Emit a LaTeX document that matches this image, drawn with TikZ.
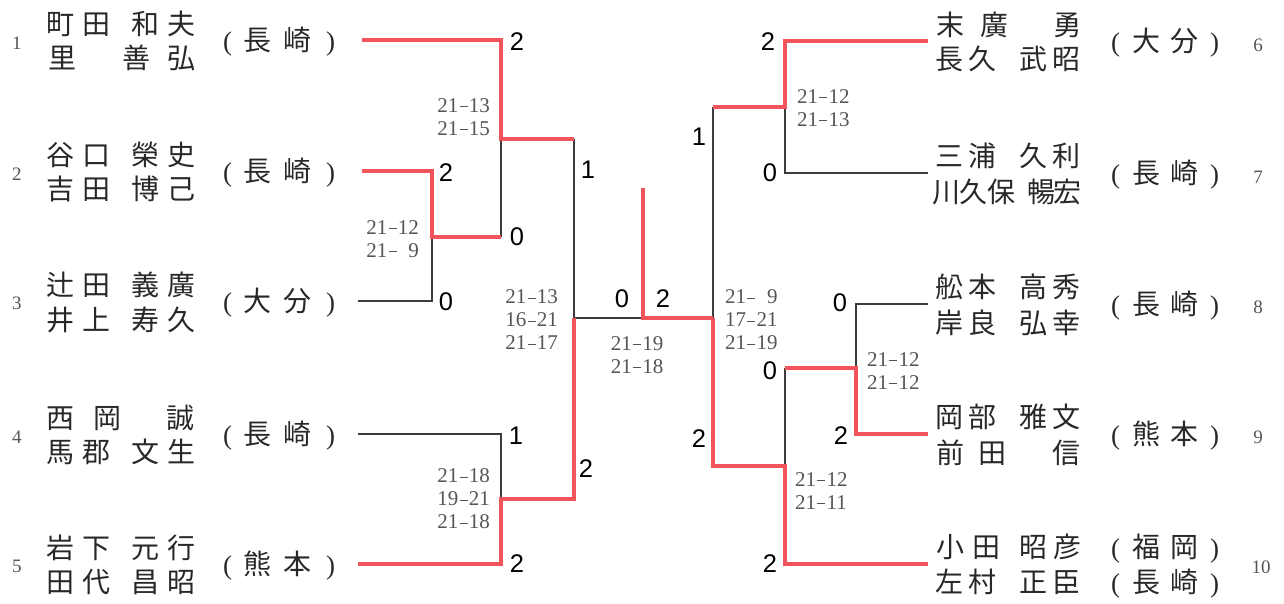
\documentclass[tikz,border=0pt]{standalone}
\usepackage{fontspec}
\setmainfont{Liberation Serif}
\newfontfamily\cjk{Noto Sans CJK JP}
\newfontfamily\pf{Liberation Serif}
\newfontfamily\bsf{Liberation Sans}
\definecolor{wred}{RGB}{242,84,92}
\definecolor{ink}{RGB}{40,40,40}
\definecolor{sgray}{RGB}{85,85,85}
\definecolor{lgray}{RGB}{60,60,60}
\newcommand\ch[2]{\makebox[0pt][l]{\hspace*{#1pt}\makebox[0pt]{#2}}}
\newcommand\sdash{\makebox[.5em]{\rule[0.24em]{0.38em}{0.055em}}}
\newcommand\nsp{\hphantom{0}}
\newcommand\lp{{\pf\fontsize{27}{27}\selectfont(}}
\newcommand\rp{{\pf\fontsize{27}{27}\selectfont)}}
\newcommand\nmL[6]{\node[nm] (#1) at (0,#2) {\ch{60}{#3}\ch{96}{#4}\ch{145}{#5}\ch{181}{#6}};}
\newcommand\nmR[6]{\node[nm] (#1) at (0,#2) {\ch{949}{#3}\ch{982}{#4}\ch{1033}{#5}\ch{1066}{#6}};}
\newcommand\affL[4]{\node[nm] (#1) at (0,#2) {\ch{227}{\lp}\ch{257}{#3}\ch{297}{#4}\ch{330}{\rp}};}
\newcommand\affR[4]{\node[nm] (#1) at (0,#2) {\ch{1115}{\lp}\ch{1146}{#3}\ch{1184}{#4}\ch{1214}{\rp}};}
\begin{document}
\begin{tikzpicture}[x=1pt,y=-1pt,
  win/.style={line width=4.8pt, draw=wred, line join=miter},
  lose/.style={line width=1.2pt, draw=lgray},
  nm/.style={anchor=base west, inner sep=0pt, font=\cjk\fontsize{28}{28}\selectfont, text=ink},
  big/.style={inner sep=0pt, font=\bsf\fontsize{25.5}{25.5}\selectfont, text=black},
  scr/.style={inner sep=0pt, font=\pf\fontsize{21}{23}\selectfont, text=sgray, align=right},
  scl/.style={inner sep=0pt, font=\pf\fontsize{21}{23}\selectfont, text=sgray, align=left},
  seed/.style={inner sep=0pt, font=\pf\fontsize{19}{19}\selectfont, text=sgray}]
\useasboundingbox (0,0) rectangle (1284,603);
% ---- bracket coordinates
\coordinate (p1) at (362,40);
\coordinate (p2) at (362,171);
\coordinate (p3) at (358,301);
\coordinate (p4) at (358,434);
\coordinate (p5) at (358,564);
\coordinate (m23t) at (432,171);
\coordinate (m23b) at (432,301);
\coordinate (m23) at (432,237);
\coordinate (m1t) at (501,40);
\coordinate (m1b) at (501,237);
\coordinate (m1) at (501,139);
\coordinate (m45t) at (501,434);
\coordinate (m45b) at (501,564);
\coordinate (m45) at (501,499);
\coordinate (sLt) at (574,139);
\coordinate (sLb) at (574,499);
\coordinate (sL) at (574,318);
\coordinate (fc) at (643,318);
\coordinate (top) at (643,188);
\coordinate (sRt) at (713,107);
\coordinate (sRb) at (713,466);
\coordinate (sR) at (713,318);
\coordinate (m67t) at (785,41);
\coordinate (m67b) at (785,173);
\coordinate (m67) at (785,107);
\coordinate (m10t) at (785,368);
\coordinate (m10b) at (785,564);
\coordinate (m10) at (785,466);
\coordinate (m89t) at (856,304);
\coordinate (m89b) at (856,434);
\coordinate (m89) at (856,368);
\coordinate (p6) at (928,41);
\coordinate (p7) at (928,173);
\coordinate (p8) at (928,304);
\coordinate (p9) at (928,434);
\coordinate (p10) at (928,564);
% ---- losing lines
\draw[lose] (p3) -- (m23b) -- (m23);
\draw[lose] (m1) -- (m1b);
\draw[lose] (p4) -- (m45t) -- (m45);
\draw[lose] (sLt) -- (sL) -- (fc);
\draw[lose] (sRt) -- (sR);
\draw[lose] (m67) -- (m67b) -- (p7);
\draw[lose] (p8) -- (m89t) -- (m89);
\draw[lose] (m10t) -- (m10);
% ---- winning lines
\draw[win] (p1) -- (m1t) -- (m1) -- (sLt);
\draw[win] (p2) -- (m23t) -- (m23) -- (m1b);
\draw[win] (p5) -- (m45b) -- (m45) -- (sLb) -- (sL);
\draw[win] (sR) -- (fc) -- (top);
\draw[win] (sR) -- (sRb) -- (m10) -- (m10b) -- (p10);
\draw[win] (p9) -- (m89b) -- (m89) -- (m10t);
\draw[win] (p6) -- (m67t) -- (m67) -- (sRt);
% ---- game counts
\node[big] (g1) at (517,42) {2};
\node[big] (g2) at (446,173) {2};
\node[big] (g3) at (446,302) {0};
\node[big] (g23) at (517,237) {0};
\node[big] (g1s) at (588,170) {1};
\node[big] (g4) at (516,436) {1};
\node[big] (g5) at (517,564) {2};
\node[big] (g5s) at (586,469) {2};
\node[big] (gfl) at (622,299) {0};
\node[big] (gfr) at (663,299) {2};
\node[big] (g6s) at (699,137) {1};
\node[big] (g6) at (768,42) {2};
\node[big] (g7) at (770,173) {0};
\node[big] (g8) at (840,303) {0};
\node[big] (g89) at (770,371) {0};
\node[big] (g9) at (841,436) {2};
\node[big] (g10s) at (699,439) {2};
\node[big] (g10) at (770,564) {2};
% ---- set scores
\node[scr, anchor=east] (s23) at (419,239) {21\sdash12\\21\sdash\nsp9};
\node[scr, anchor=east] (s1) at (490,117) {21\sdash13\\21\sdash15};
\node[scr, anchor=east] (sl) at (558,320) {21\sdash13\\16\sdash21\\21\sdash17};
\node[scr, anchor=east] (s45) at (490,499) {21\sdash18\\19\sdash21\\21\sdash18};
\node[scl] (sf) at (637,355) {21\sdash19\\21\sdash18};
\node[scl, anchor=west] (sr) at (725,320) {21\sdash\nsp9\\17\sdash21\\21\sdash19};
\node[scl, anchor=west] (s67) at (797,108) {21\sdash12\\21\sdash13};
\node[scl, anchor=west] (s89) at (867,371) {21\sdash12\\21\sdash12};
\node[scl, anchor=west] (s10) at (795,491) {21\sdash12\\21\sdash11};
% ---- seeds
\node[seed] (n1) at (17,43) {1};
\node[seed] (n2) at (17,174) {2};
\node[seed] (n3) at (17,303) {3};
\node[seed] (n4) at (17,437) {4};
\node[seed] (n5) at (17,566) {5};
\node[seed] (n6) at (1258,45) {6};
\node[seed] (n7) at (1258,177) {7};
\node[seed] (n8) at (1258,307) {8};
\node[seed] (n9) at (1258,437) {9};
\node[seed] (n10) at (1261,567) {10};
% ---- names left
\nmL{a1}{34}{町}{田}{和}{夫}
\node[nm] (b1) at (0,68) {\ch{62}{里}\ch{136}{善}\ch{181}{弘}};
\affL{c1}{50.5}{長}{崎}
\nmL{a2}{165}{谷}{口}{榮}{史}
\nmL{b2}{199.5}{吉}{田}{博}{己}
\affL{c2}{181.5}{長}{崎}
\nmL{a3}{295}{辻}{田}{義}{廣}
\nmL{b3}{330}{井}{上}{寿}{久}
\affL{c3}{311.5}{大}{分}
\node[nm] (a4) at (0,428) {\ch{60}{西}\ch{107}{岡}\ch{180}{誠}};
\nmL{b4}{462.5}{馬}{郡}{文}{生}
\affL{c4}{444.5}{長}{崎}
\nmL{a5}{558}{岩}{下}{元}{行}
\nmL{b5}{592.5}{田}{代}{昌}{昭}
\affL{c5}{574.5}{熊}{本}
% ---- names right
\node[nm] (a6) at (0,35) {\ch{950}{末}\ch{994}{廣}\ch{1067}{勇}};
\nmR{b6}{69.5}{長}{久}{武}{昭}
\affR{c6}{51.5}{大}{分}
\nmR{a7}{166.5}{三}{浦}{久}{利}
\node[nm] (b7) at (0,202) {\ch{946}{川}\ch{973}{久}\ch{1001}{保}\ch{1041}{暢}\ch{1067}{宏}};
\affR{c7}{183.5}{長}{崎}
\nmR{a8}{297.5}{舩}{本}{高}{秀}
\nmR{b8}{333}{岸}{良}{弘}{幸}
\affR{c8}{314.5}{長}{崎}
\nmR{a9}{427.5}{岡}{部}{雅}{文}
\node[nm] (b9) at (0,463) {\ch{950}{前}\ch{992}{田}\ch{1066}{信}};
\affR{c9}{444.5}{熊}{本}
\node[nm] (a10) at (0,557) {\ch{950}{小}\ch{986}{田}\ch{1033}{昭}\ch{1067}{彦}};
\nmR{b10}{592.5}{左}{村}{正}{臣}
\affR{c10a}{557}{福}{岡}
\affR{c10b}{592.5}{長}{崎}
\end{tikzpicture}
\end{document}
